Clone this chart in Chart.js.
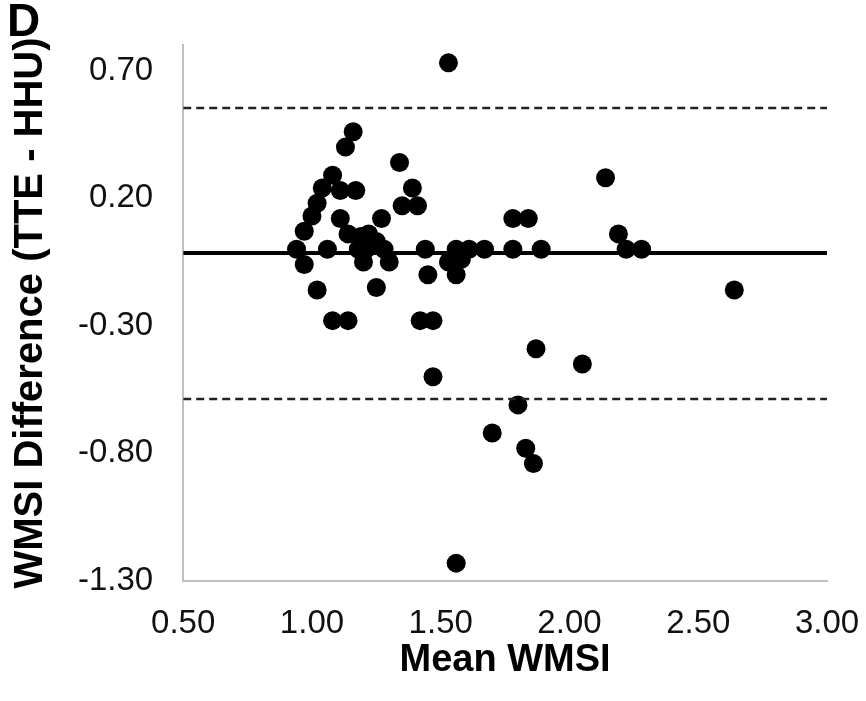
<!DOCTYPE html>
<html>
<head>
<meta charset="utf-8">
<title>WMSI Bland-Altman</title>
<script src="https://cdn.jsdelivr.net/npm/chart.js@4/dist/chart.umd.min.js"></script>
<style>
    body { margin: 0; background: #fff; }
    #wrap { width: 866px; height: 701px; position: relative; }
</style>
</head>
<body>
<div id="wrap"><canvas id="baChart"></canvas></div>
<script>
// Mean WMSI (x) and WMSI difference TTE - HHU (y)
const meanWmsi = [
    1.16, 1.13, 1.34, 1.08, 1.04, 1.11, 1.17, 1.39, 1.02, 1.35,
    1.41, 1.00, 1.11, 1.27, 0.97, 1.14, 1.19, 1.22, 0.94, 1.06,
    1.18, 1.21, 1.28, 1.25, 0.97, 1.20, 1.30, 1.02, 1.25, 1.08,
    1.14, 1.44, 1.45, 1.42, 1.47, 1.47, 1.53, 1.56, 1.61, 1.67,
    1.53, 1.58, 1.56, 1.56, 1.78, 1.84, 1.78, 1.89, 1.87, 1.80,
    1.70, 1.83, 1.86, 2.05, 2.14, 2.19, 2.22, 2.28, 2.64
];
const wmsiDiff = [
    0.46, 0.40, 0.34, 0.29, 0.24, 0.23, 0.23, 0.24, 0.18, 0.17,
    0.17, 0.13, 0.12, 0.12, 0.07, 0.06, 0.05, 0.06, 0.00, 0.00,
    0.00, 0.00, 0.00, 0.03, -0.06, -0.05, -0.05, -0.16, -0.15, -0.28,
    -0.28, 0.00, -0.10, -0.28, -0.28, -0.50, 0.73, 0.00, 0.00, 0.00,
    -0.05, -0.04, -0.10, -1.23, 0.12, 0.12, 0.00, 0.00, -0.39, -0.61,
    -0.72, -0.78, -0.84, -0.45, 0.28, 0.06, 0.00, 0.00, -0.16
];

// bias and limits of agreement
const meanDiff = -0.015;
const upperLoa = 0.553;
const lowerLoa = -0.587;

const xTicks = [0.5, 1.0, 1.5, 2.0, 2.5, 3.0];
const yTicks = [-1.3, -0.8, -0.3, 0.2, 0.7];
const xRange = [0.5, 3.0];
const yRange = [-1.3, 0.8];

const fontFamily = '"Liberation Sans", Arial, sans-serif';

function hLine(y) {
    return [{ x: xRange[0], y: y }, { x: xRange[1], y: y }];
}

const points = meanWmsi.map((x, i) => ({ x: x, y: wmsiDiff[i] }));

// invisible tick marks keep the label gap without widening the side padding
const hiddenGrid = (len) => ({
    display: true,
    drawOnChartArea: false,
    drawTicks: true,
    tickLength: len,
    color: 'rgba(0,0,0,0)',
    tickColor: 'rgba(0,0,0,0)'
});

new Chart(document.getElementById('baChart'), {
    type: 'scatter',
    data: {
        datasets: [
            {
                type: 'line',
                data: hLine(meanDiff),
                borderColor: '#000',
                borderWidth: 4,
                pointRadius: 0,
                fill: false
            },
            {
                type: 'line',
                data: hLine(upperLoa),
                borderColor: '#222',
                borderWidth: 2.5,
                borderDash: [8, 5],
                pointRadius: 0,
                fill: false
            },
            {
                type: 'line',
                data: hLine(lowerLoa),
                borderColor: '#222',
                borderWidth: 2.5,
                borderDash: [8, 5],
                pointRadius: 0,
                fill: false
            },
            {
                data: points,
                backgroundColor: '#000',
                borderWidth: 0,
                pointRadius: 9.5,
                pointHoverRadius: 9.5
            }
        ]
    },
    options: {
        responsive: true,
        maintainAspectRatio: false,
        animation: false,
        layout: {
            padding: { left: 7, right: 39, top: 0, bottom: 21 }
        },
        plugins: {
            legend: { display: false },
            tooltip: { enabled: false },
            title: {
                display: true,
                text: 'D',
                align: 'start',
                color: '#000',
                font: { family: fontFamily, size: 46, weight: 'bold', lineHeight: 1 },
                padding: { top: 0, bottom: -1 }
            }
        },
        scales: {
            x: {
                type: 'linear',
                min: xRange[0],
                max: xRange[1],
                afterBuildTicks: axis => { axis.ticks = xTicks.map(v => ({ value: v })); },
                grid: hiddenGrid(23),
                border: { display: true, color: '#bfbfbf', width: 2 },
                ticks: {
                    padding: 3,
                    color: '#111',
                    font: { family: fontFamily, size: 33, lineHeight: 1 },
                    callback: v => v.toFixed(2)
                },
                title: {
                    display: true,
                    text: 'Mean WMSI',
                    color: '#000',
                    font: { family: fontFamily, size: 38, weight: 'bold', lineHeight: 1 },
                    padding: { top: -1, bottom: 0 }
                }
            },
            y: {
                type: 'linear',
                min: yRange[0],
                max: yRange[1],
                afterBuildTicks: axis => { axis.ticks = yTicks.map(v => ({ value: v })); },
                grid: hiddenGrid(27),
                border: { display: true, color: '#bfbfbf', width: 2 },
                ticks: {
                    padding: 3,
                    color: '#111',
                    font: { family: fontFamily, size: 33, lineHeight: 1 },
                    callback: v => v.toFixed(2)
                },
                title: {
                    display: true,
                    text: 'WMSI Difference (TTE - HHU)',
                    color: '#000',
                    font: { family: fontFamily, size: 40, weight: 'bold', lineHeight: 1.2 },
                    padding: { top: 0, bottom: 20 }
                }
            }
        }
    }
});
</script>
</body>
</html>
